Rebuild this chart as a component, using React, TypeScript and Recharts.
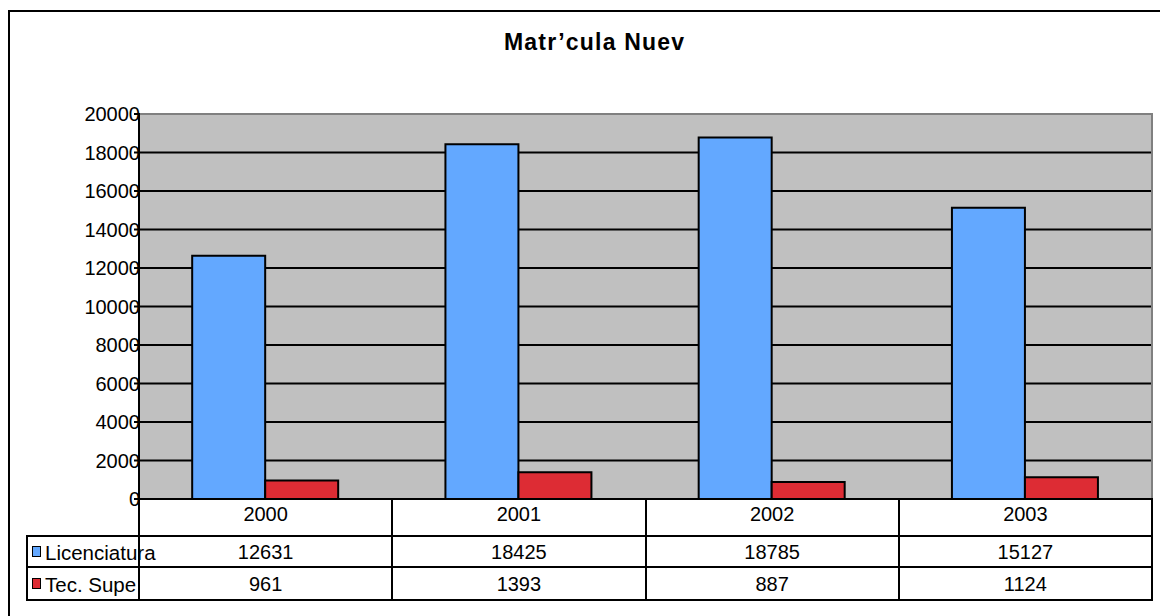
import { Bar, BarChart, CartesianGrid, XAxis, YAxis } from "recharts";

const years = ["2000", "2001", "2002", "2003"];
const licenciatura = [12631, 18425, 18785, 15127];
const tecSuperior = [961, 1393, 887, 1124];
const seriesNames = ["Licenciatura", "Tec. Supe"];
const yTicks = [0, 2000, 4000, 6000, 8000, 10000, 12000, 14000, 16000, 18000, 20000];
const gridValues = [0, 2000, 4000, 6000, 8000, 10000, 12000, 14000, 16000, 18000];
const title = "Matr’cula Nuev";

const BLUE = "#63a8ff";
const RED = "#dd2c34";
const FONT = "'Liberation Sans', Arial, sans-serif";

const W = 1160;
const H = 616;
const plotLeft = 139;
const plotRight = 1152;
const plotTop = 114;
const plotBottom = 499;
const row1Top = 536;
const row2Top = 567;
const tableBottom = 600;
const legendLeft = 27;
const colW = (plotRight - plotLeft) / years.length;

const data = years.map((year, i) => ({
  year,
  lic: licenciatura[i],
  tec: tecSuperior[i]
}));

function YTick({ x, y, payload }: any) {
  return (
    <text x={x + 8} y={y + 7} textAnchor="end" fontSize={20} fontFamily={FONT} fill="#000">
      {payload.value}
    </text>
  );
}

function hLine(x1: number, x2: number, y: number, key: string) {
  return (
    <div
      key={key}
      style={{ position: "absolute", left: x1 - 1, top: y - 1, width: x2 - x1 + 2, height: 2, background: "#000" }}
    />
  );
}

function vLine(x: number, y1: number, y2: number, key: string) {
  return (
    <div
      key={key}
      style={{ position: "absolute", left: x - 1, top: y1 - 1, width: 2, height: y2 - y1 + 2, background: "#000" }}
    />
  );
}

function cellText(text: string | number, left: number, width: number, centerY: number, key: string) {
  return (
    <div
      key={key}
      style={{
        position: "absolute",
        left,
        width,
        top: centerY - 10,
        height: 20,
        lineHeight: "20px",
        fontSize: 20,
        textAlign: "center",
        whiteSpace: "nowrap"
      }}
    >
      {text}
    </div>
  );
}

export default function App() {
  const rows = [
    { name: seriesNames[0], values: licenciatura, color: BLUE, top: row1Top, bottom: row2Top },
    { name: seriesNames[1], values: tecSuperior, color: RED, top: row2Top, bottom: tableBottom }
  ];

  return (
    <div
      style={{
        position: "absolute",
        left: 0,
        top: 0,
        width: W,
        height: H,
        overflow: "hidden",
        background: "#fff",
        fontFamily: FONT,
        color: "#000"
      }}
    >
      {/* outer frame, only top and left fall inside the picture */}
      {hLine(9, W + 10, 11, "frame-top")}
      {vLine(9, 11, H + 10, "frame-left")}

      <div
        style={{
          position: "absolute",
          left: 504,
          top: 31,
          whiteSpace: "nowrap",
          fontWeight: "bold",
          fontSize: 23,
          lineHeight: "23px",
          letterSpacing: 1.2
        }}
      >
        {title}
      </div>

      <div style={{ position: "absolute", left: 0, top: 0 }}>
        <BarChart
          width={W}
          height={H}
          data={data}
          margin={{ top: plotTop, right: W - plotRight, bottom: H - plotBottom, left: 0 }}
          barCategoryGap="21%"
          barGap={0}
        >
          <CartesianGrid
            fill="#c0c0c0"
            vertical={false}
            stroke="#000"
            strokeWidth={2}
            horizontalValues={gridValues}
          />
          <XAxis dataKey="year" hide />
          <YAxis
            width={plotLeft}
            domain={[0, 20000]}
            ticks={yTicks}
            interval={0}
            axisLine={{ stroke: "#000", strokeWidth: 2 }}
            tickLine={{ stroke: "#000", strokeWidth: 2 }}
            tickSize={5}
            tick={<YTick />}
          />
          <Bar dataKey="lic" name={seriesNames[0]} fill={BLUE} stroke="#000" strokeWidth={2} isAnimationActive={false} />
          <Bar dataKey="tec" name={seriesNames[1]} fill={RED} stroke="#000" strokeWidth={2} isAnimationActive={false} />
        </BarChart>
      </div>

      {/* grey plot border on top and right */}
      <div
        style={{ position: "absolute", left: plotLeft, top: plotTop - 1, width: plotRight - plotLeft + 1, height: 2, background: "#808080" }}
      />
      <div
        style={{ position: "absolute", left: plotRight - 1, top: plotTop - 1, width: 2, height: plotBottom - plotTop, background: "#808080" }}
      />
      {vLine(plotLeft, plotTop, plotBottom, "axis-left")}

      {/* data table */}
      <div
        style={{ position: "absolute", left: plotLeft, top: plotBottom, width: plotRight - plotLeft, height: tableBottom - plotBottom, background: "#fff" }}
      />
      {hLine(plotLeft, plotRight, plotBottom, "t-top")}
      {hLine(legendLeft, plotRight, row1Top, "t-r1")}
      {hLine(legendLeft, plotRight, row2Top, "t-r2")}
      {hLine(legendLeft, plotRight, tableBottom, "t-bottom")}
      {vLine(legendLeft, row1Top, tableBottom, "t-left")}
      {years.map((_, i) => vLine(plotLeft + i * colW, plotBottom, tableBottom, `t-col-${i}`))}
      {vLine(plotRight, plotBottom, tableBottom, "t-right")}
      {years.map((y, i) => cellText(y, plotLeft + i * colW, colW, 514, `h-${i}`))}
      {rows.map((row, r) => (
        <div key={`row-${r}`}>
          <div
            style={{
              position: "absolute",
              left: 32,
              top: (row.top + row.bottom) / 2 - 6,
              width: 7,
              height: 9,
              background: row.color,
              border: "1.5px solid #000"
            }}
          />
          <div
            style={{
              position: "absolute",
              left: 45,
              top: (row.top + row.bottom) / 2 - 9,
              fontSize: 20.5,
              lineHeight: "20px",
              whiteSpace: "nowrap"
            }}
          >
            {row.name}
          </div>
          {row.values.map((v, i) => cellText(v, plotLeft + i * colW, colW, (row.top + row.bottom) / 2, `c-${r}-${i}`))}
        </div>
      ))}
      {vLine(plotLeft, row1Top, tableBottom, "t-legend-line")}
    </div>
  );
}
